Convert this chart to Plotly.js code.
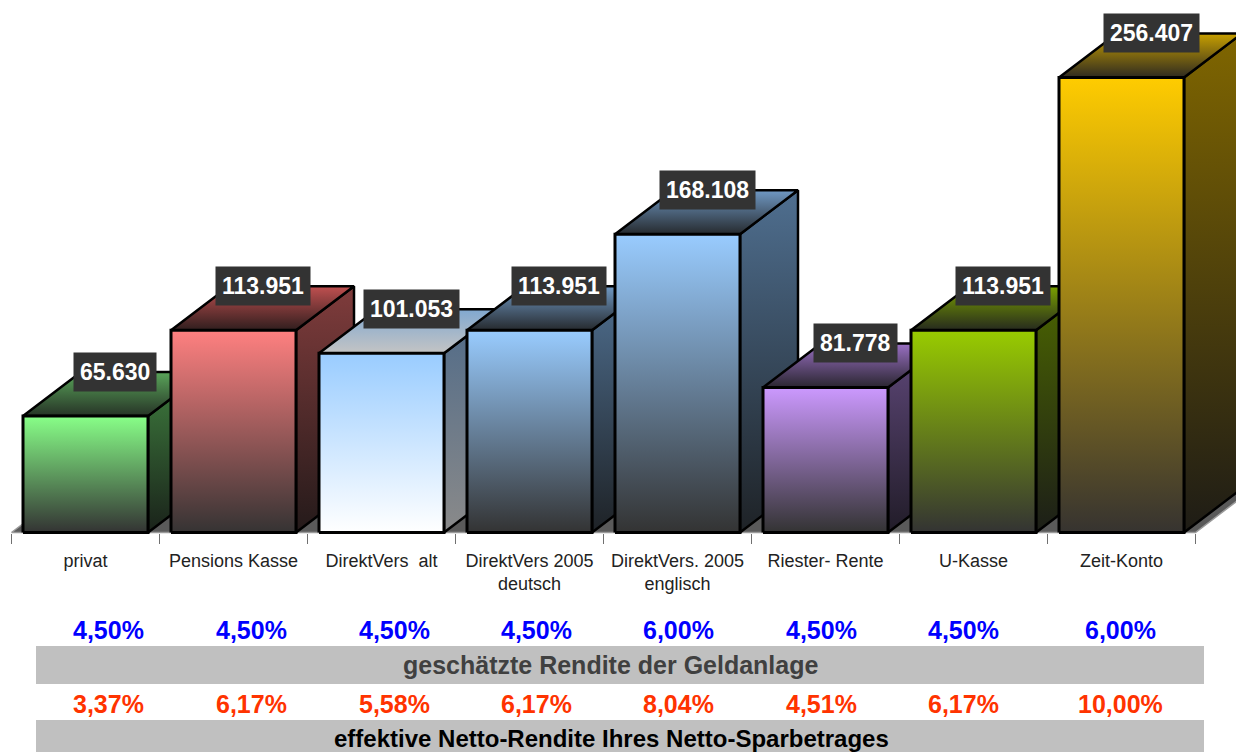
<!DOCTYPE html>
<html>
<head>
<meta charset="utf-8">
<script src="https://cdn.plot.ly/plotly-3.0.1.min.js"></script>
<style>
  html, body { margin: 0; padding: 0; background: #ffffff; }
  #chart { width: 1236px; height: 752px; }
</style>
</head>
<body>
<div id="chart"></div>
<script>
// ---------- data ----------
const categories = ['privat', 'Pensions Kasse', 'DirektVers  alt', 'DirektVers 2005<br>deutsch',
                    'DirektVers. 2005<br>englisch', 'Riester- Rente', 'U-Kasse', 'Zeit-Konto'];
const values = [65630, 113951, 101053, 113951, 168108, 81778, 113951, 256407];
const geschaetzteRendite = [4.50, 4.50, 4.50, 4.50, 6.00, 4.50, 4.50, 6.00];
const nettoRendite = [3.37, 6.17, 5.58, 6.17, 8.04, 4.51, 6.17, 10.00];
const rowTitle1 = 'geschätzte Rendite der Geldanlage';
const rowTitle2 = 'effektive Netto-Rendite Ihres Netto-Sparbetrages';

// ---------- styles ----------
const palette = [
  {front: ['#333333', '#88ff88'], side: ['#1a221a', '#3f7f3f'], top: ['#263326', '#5aa55a']},
  {front: ['#353333', '#ff8080'], side: ['#241a1a', '#803c3c'], top: ['#301e1e', '#c05050']},
  {front: ['#ffffff', '#99ccff'], side: ['#8a8a8a', '#4f6a88'], top: ['#c4c4c4', '#80a8d0']},
  {front: ['#333333', '#99ccff'], side: ['#1e2226', '#4f6f90'], top: ['#262a2e', '#7099c4']},
  {front: ['#333333', '#99ccff'], side: ['#1e2226', '#4f6f90'], top: ['#262a2e', '#7099c4']},
  {front: ['#333333', '#cc99ff'], side: ['#211c28', '#5f487a'], top: ['#2a2630', '#9a70c4']},
  {front: ['#333333', '#99cc00'], side: ['#1c1e18', '#4c6600'], top: ['#262a1e', '#7aa000']},
  {front: ['#363330', '#ffcc00'], side: ['#1e1c16', '#806600'], top: ['#2e2a20', '#c8a000']}
];

const W = 1236, H = 752;
const baselinePx = 532.5;
const yTop = 300064;                       // value at top edge of canvas
const unitsPerPx = yTop / baselinePx;
const yBottom = -(H - baselinePx) * unitsPerPx;
const xPerPx = 1 / 148;
const xMin = -85.5 * xPerPx, xMax = xMin + W * xPerPx;
const barW = 125 / 148;
const DX = 58 * xPerPx;                    // depth offset (x)
const DY = 44 * unitsPerPx;                // depth offset (y)

function fmtThousands(v) {
  const s = String(Math.round(v));
  return s.replace(/\B(?=(\d{3})+(?!\d))/g, '.');
}
function fmtPct(v) { return v.toFixed(2).replace('.', ',') + '%'; }

function poly(xs, ys, colors, lineColor, lineWidth) {
  const lo = Math.min(...ys), hi = Math.max(...ys);
  return {
    type: 'scatter', mode: 'lines', x: xs.concat([xs[0]]), y: ys.concat([ys[0]]),
    fill: 'toself', fillcolor: colors[1],
    fillgradient: {type: 'vertical', start: lo, stop: hi, colorscale: [[0, colors[0]], [1, colors[1]]]},
    line: {color: lineColor, width: lineWidth},
    hoverinfo: 'skip', showlegend: false
  };
}

const traces = [];
// floor
const fl = -0.5, fr = categories.length - 0.5;
traces.push(poly([fl, fr, fr + DX, fl + DX], [0, 0, DY, DY], ['#5a5a5a', '#5a5a5a'], '#9a9a9a', 1.5));

values.forEach((v, i) => {
  const xl = i - barW / 2, xr = i + barW / 2;
  const c = palette[i];
  traces.push(poly([xr, xr + DX, xr + DX, xr], [0, DY, v + DY, v], c.side, '#000000', 2.5));
  traces.push(poly([xl, xr, xr + DX, xl + DX], [v, v, v + DY, v + DY], c.top, '#000000', 2.5));
  traces.push(poly([xl, xr, xr, xl], [0, 0, v, v], c.front, '#000000', 3));
});

const annotations = [];
values.forEach((v, i) => {
  annotations.push({
    x: i + DX * 0.51, y: v + DY, xref: 'x', yref: 'y',
    text: fmtThousands(v), showarrow: false, xanchor: 'center', yanchor: 'middle',
    bgcolor: '#333333', borderpad: 6,
    font: {family: 'Liberation Sans, Arial, sans-serif', size: 23, color: '#ffffff', weight: 'bold'}
  });
});

const colX = [109, 251, 394, 536, 678, 821, 964, 1120];
const pctFont = {family: 'Liberation Sans, Arial, sans-serif', size: 25, weight: 'bold'};
geschaetzteRendite.forEach((r, i) => {
  annotations.push({
    x: colX[i] / W, y: 1 - 630 / H, xref: 'paper', yref: 'paper', showarrow: false,
    xanchor: 'center', yanchor: 'middle', text: fmtPct(r),
    font: Object.assign({}, pctFont, {color: '#0000ff'})
  });
});
nettoRendite.forEach((r, i) => {
  annotations.push({
    x: colX[i] / W, y: 1 - 704 / H, xref: 'paper', yref: 'paper', showarrow: false,
    xanchor: 'center', yanchor: 'middle', text: fmtPct(r),
    font: Object.assign({}, pctFont, {color: '#ff3300'})
  });
});
annotations.push({
  x: 610 / W, y: 1 - 665 / H, xref: 'paper', yref: 'paper', showarrow: false,
  xanchor: 'center', yanchor: 'middle', text: rowTitle1,
  font: Object.assign({}, pctFont, {color: '#404040'})
});
annotations.push({
  x: 611 / W, y: 1 - 738.5 / H, xref: 'paper', yref: 'paper', showarrow: false,
  xanchor: 'center', yanchor: 'middle', text: rowTitle2, borderpad: 0,
  font: Object.assign({}, pctFont, {color: '#000000', size: 24})
});

const shapes = [
  {type: 'rect', xref: 'paper', yref: 'paper', x0: 36 / W, x1: 1204 / W, y0: 1 - 684 / H, y1: 1 - 646 / H,
   fillcolor: '#c0c0c0', line: {width: 0}, layer: 'below'},
  {type: 'rect', xref: 'paper', yref: 'paper', x0: 36 / W, x1: 1204 / W, y0: -0.05, y1: 1 - 720 / H,
   fillcolor: '#c0c0c0', line: {width: 0}, layer: 'below'}
];

const layout = {
  width: W, height: H,
  margin: {l: 0, r: 0, t: 0, b: 0, pad: 0},
  paper_bgcolor: '#ffffff', plot_bgcolor: 'rgba(0,0,0,0)',
  showlegend: false,
  xaxis: {
    range: [xMin, xMax], domain: [0, 1], anchor: 'free', position: 1 - baselinePx / H,
    showgrid: false, zeroline: false, showline: false,
    tickmode: 'array', tickvals: categories.map((c, i) => i), ticktext: categories,
    ticks: '', tickangle: 0, ticklabelstandoff: 15,
    tickfont: {family: 'Liberation Sans, Arial, sans-serif', size: 18, color: '#222222'},
    minor: {tickmode: 'linear', tick0: -0.5, dtick: 1, ticks: 'outside', ticklen: 10, tickwidth: 1, tickcolor: '#707070', showgrid: false},
    fixedrange: true
  },
  yaxis: {range: [yBottom, yTop], domain: [0, 1], visible: false, fixedrange: true},
  shapes: shapes,
  annotations: annotations
};

Plotly.newPlot('chart', traces, layout, {staticPlot: true, displayModeBar: false});
</script>
</body>
</html>
